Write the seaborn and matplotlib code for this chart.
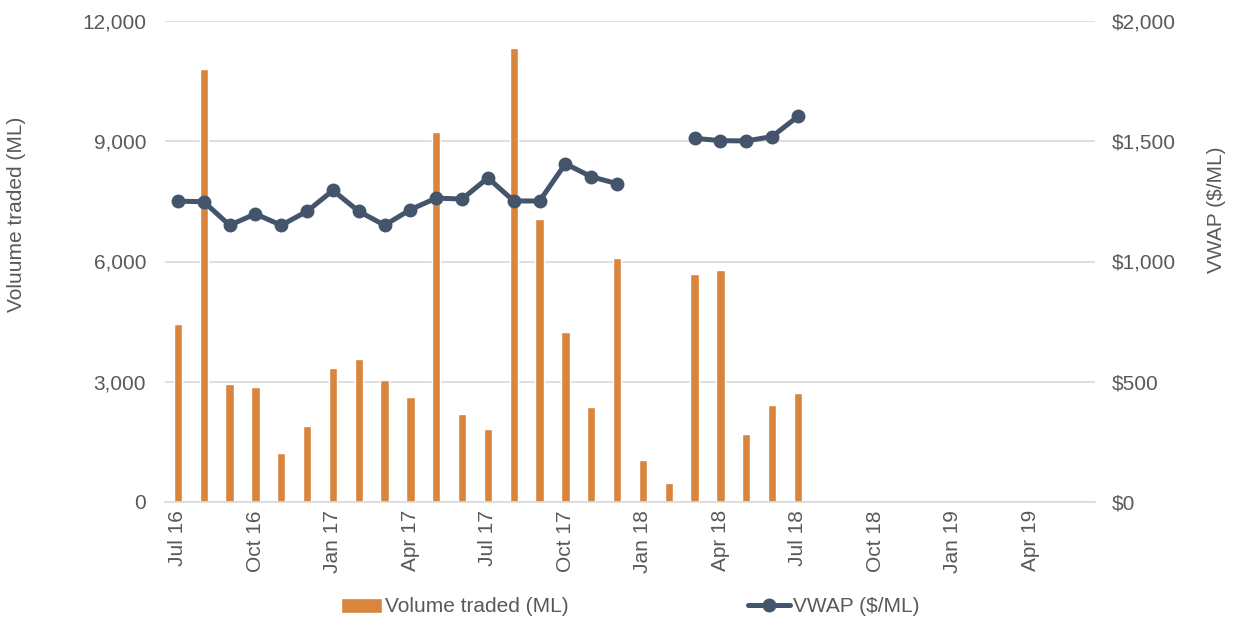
import numpy as np
import pandas as pd
import matplotlib
matplotlib.use("Agg")
import matplotlib.pyplot as plt
import seaborn as sns

# Monthly series, Jul 2016 - Jun 2019
months = ["Jul 16", "Aug 16", "Sep 16", "Oct 16", "Nov 16", "Dec 16",
          "Jan 17", "Feb 17", "Mar 17", "Apr 17", "May 17", "Jun 17",
          "Jul 17", "Aug 17", "Sep 17", "Oct 17", "Nov 17", "Dec 17",
          "Jan 18", "Feb 18", "Mar 18", "Apr 18", "May 18", "Jun 18",
          "Jul 18", "Aug 18", "Sep 18", "Oct 18", "Nov 18", "Dec 18",
          "Jan 19", "Feb 19", "Mar 19", "Apr 19", "May 19", "Jun 19"]

volume_ml = [4430, 10810, 2950, 2875, 1225, 1885,
             3350, 3560, 3035, 2617, 9225, 2192,
             1817, 11325, 7060, 4235, 2360, 6075,
             1042, 475, 5692, 5792, 1692, 2417,
             2717, np.nan, np.nan, np.nan, np.nan, np.nan,
             np.nan, np.nan, np.nan, np.nan, np.nan, np.nan]

vwap = [1251, 1249, 1151, 1198, 1151, 1209,
        1296, 1209, 1151, 1216, 1264, 1260,
        1348, 1252, 1252, 1407, 1353, 1324,
        np.nan, np.nan, 1513, 1503, 1502, 1520,
        1604, np.nan, np.nan, np.nan, np.nan, np.nan,
        np.nan, np.nan, np.nan, np.nan, np.nan, np.nan]

tick_labels = months[::3]

BAR_COLOR = "#DA853D"
LINE_COLOR = "#44546A"
TEXT_COLOR = "#595959"
GRID_COLOR = "#D9D9D9"
FS = 15

sns.set_theme(style="white")
plt.rcParams["font.family"] = ["Liberation Sans", "DejaVu Sans"]

df = pd.DataFrame({"month": months, "idx": np.arange(len(months)),
                   "volume": volume_ml, "vwap": vwap})

fig = plt.figure(figsize=(12.34, 6.22), dpi=100)
ax = fig.add_axes([165 / 1234, 1 - 501.7 / 622, 930 / 1234, (501.7 - 21.3) / 622])

sns.barplot(data=df, x="idx", y="volume", color=BAR_COLOR, width=0.32,
            saturation=1, ax=ax, label="Volume traded (ML)",
            order=list(range(len(months))), legend=False)
if ax.get_legend() is not None:
    ax.get_legend().remove()

ax2 = ax.twinx()
# VWAP line, drawn in separate runs so missing months leave a gap
valid = df["vwap"].notna()
seg = (~valid).cumsum()
for i, (_, part) in enumerate(df[valid].groupby(seg[valid])):
    sns.lineplot(data=part, x="idx", y="vwap", color=LINE_COLOR, linewidth=3.6,
                 marker="o", markersize=10, markeredgewidth=0, ax=ax2,
                 label="VWAP ($/ML)" if i == 0 else None, legend=False)

ax.set_xlim(-0.5, 35.5)
ax.set_ylim(0, 12000)
ax2.set_ylim(0, 2000)
ax.set_yticks(np.arange(0, 12001, 3000))
ax2.set_yticks(np.arange(0, 2001, 500))
ax.set_yticklabels([f"{v:,}" for v in range(0, 12001, 3000)])
ax2.set_yticklabels([f"${v:,}" for v in range(0, 2001, 500)])
ax.set_xticks(np.arange(0, 36, 3))
ax.set_xticklabels(tick_labels, rotation=90)

ax.yaxis.grid(True, color=GRID_COLOR, linewidth=1.2)
ax.set_axisbelow(True)
for a in (ax, ax2):
    for s in a.spines.values():
        s.set_visible(False)
ax.spines["bottom"].set_visible(True)
ax.spines["bottom"].set_color(GRID_COLOR)
ax.spines["bottom"].set_linewidth(1.2)

ax.tick_params(axis="y", length=0, pad=13.5, labelsize=FS, labelcolor=TEXT_COLOR)
ax2.tick_params(axis="y", length=0, pad=12, labelsize=FS, labelcolor=TEXT_COLOR)
ax.tick_params(axis="x", length=0, pad=6, labelsize=FS, labelcolor=TEXT_COLOR)
ax.set_xlabel("")
ax.set_ylabel("")
ax2.set_ylabel("")

fig.text(17 / 1234, 1 - 214 / 622, "Voluume traded (ML)", rotation=90,
         ha="center", va="center", fontsize=FS, color=TEXT_COLOR)
fig.text(1217 / 1234, 1 - 210 / 622, "VWAP ($/ML)", rotation=90,
         ha="center", va="center", fontsize=FS, color=TEXT_COLOR)

bar_handle = ax.patches[0]
line_handle = ax2.get_lines()[0]
leg = fig.legend([bar_handle, line_handle], ["Volume traded (ML)", "VWAP ($/ML)"],
                 loc="center", bbox_to_anchor=(630 / 1234, 1 - 607 / 622), ncol=2,
                 frameon=False, fontsize=FS, handlelength=2.0, handletextpad=0.15,
                 columnspacing=8.6)
for t in leg.get_texts():
    t.set_color(TEXT_COLOR)

fig.savefig("out.png", dpi=100)
